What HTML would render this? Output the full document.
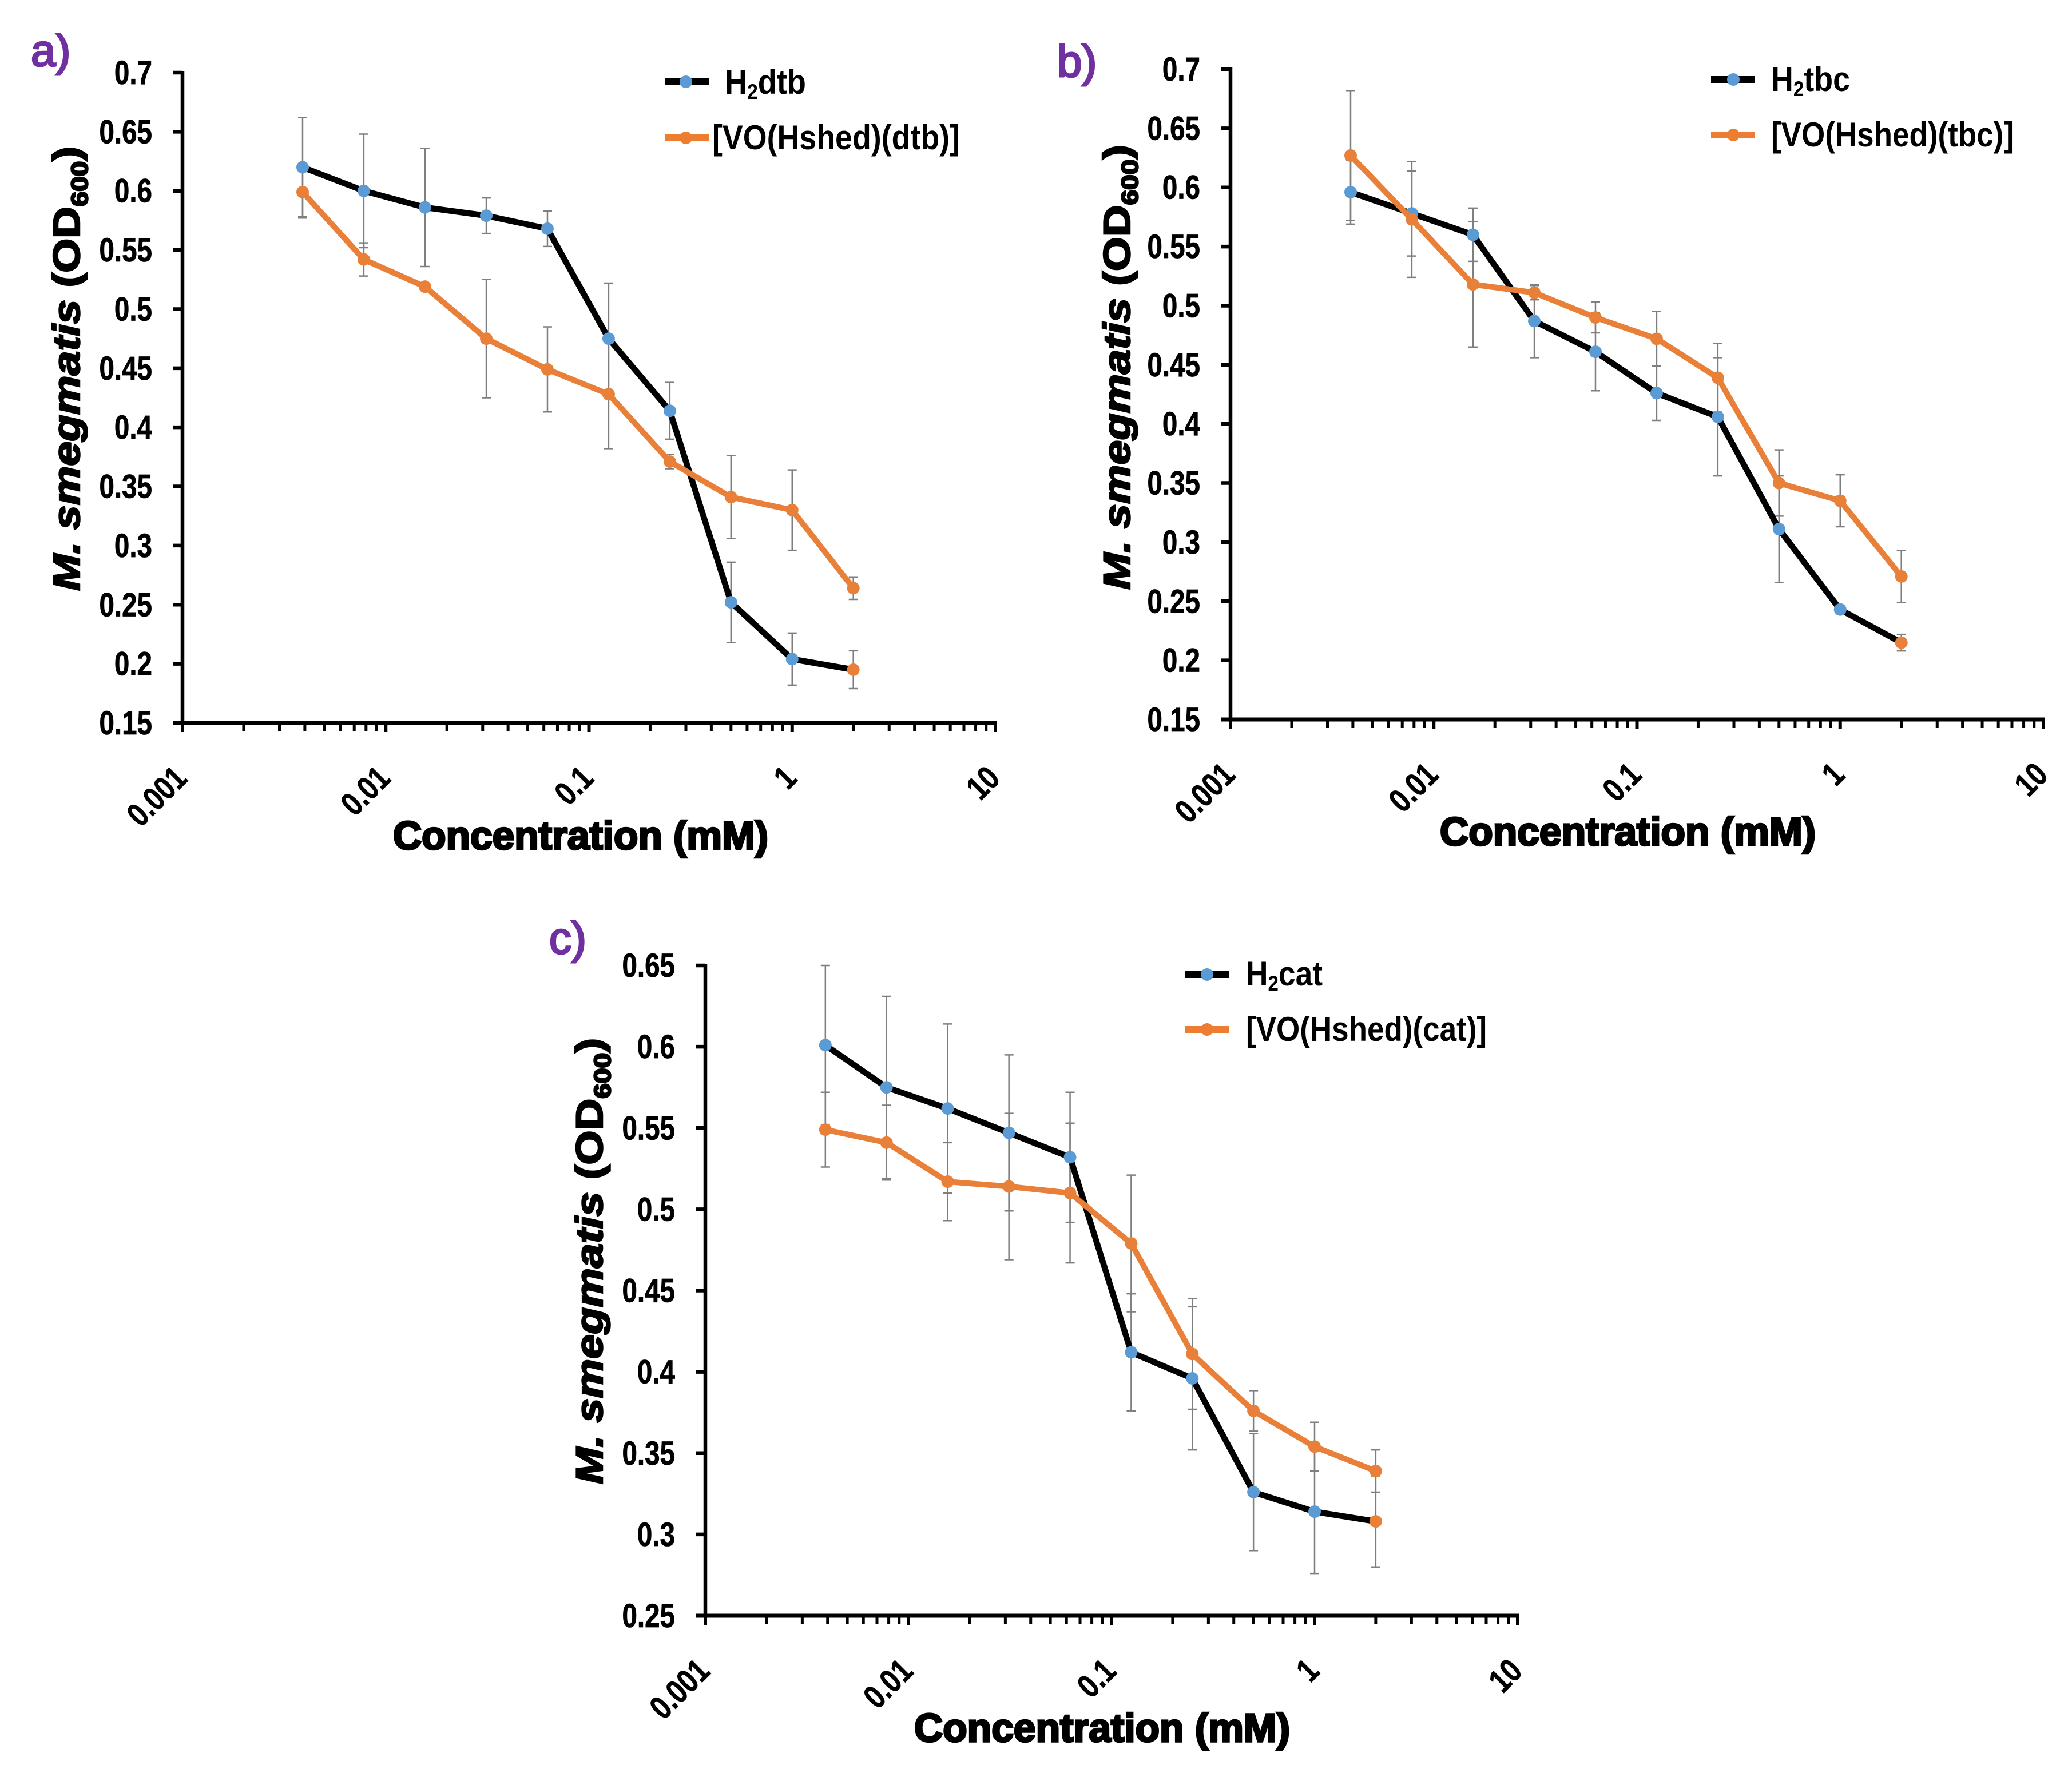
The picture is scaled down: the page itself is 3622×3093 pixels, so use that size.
<!DOCTYPE html>
<html lang="en">
<head>
<meta charset="utf-8">
<title>M. smegmatis growth charts</title>
<style>
html,body{margin:0;padding:0;background:#fff;width:3622px;height:3093px;overflow:hidden}
svg{display:block}
text{font-family:"Liberation Sans",sans-serif;font-weight:bold;fill:#000}
.sub{font-size:.62em}
.panel-label{font-size:78px;fill:#7030a0;font-weight:normal;stroke:#7030a0;stroke-width:3px}
.legend-text{font-size:60px}
.x-title{font-size:70px;stroke:#000;stroke-width:3.5px}
.y-title{font-size:66px;stroke:#000;stroke-width:2.5px}
</style>
</head>
<body>
<svg id="chart" xmlns="http://www.w3.org/2000/svg" width="3622" height="3093" viewBox="0 0 3622 3093">
  <rect width="3622" height="3093" fill="#fff"/>

  <g id="panel-a"></g>
  <g id="panel-b"></g>
  <g id="panel-c"></g>

  <text class="panel-label" x="54" y="115">a)</text>
  <text class="panel-label" x="1848" y="134">b)</text>
  <text class="panel-label" x="960" y="1667">c)</text>

  <text class="x-title" x="687" y="1485" textLength="656" lengthAdjust="spacingAndGlyphs">Concentration (mM)</text>
  <text class="x-title" x="2517" y="1478" textLength="657" lengthAdjust="spacingAndGlyphs">Concentration (mM)</text>
  <text class="x-title" x="1598" y="3045" textLength="657" lengthAdjust="spacingAndGlyphs">Concentration (mM)</text>

  <text class="y-title" transform="translate(139,1033) rotate(-90)" textLength="777" lengthAdjust="spacingAndGlyphs"><tspan font-style="italic">M. smegmatis</tspan> (OD<tspan class="sub" dy="14">600</tspan><tspan dy="-14">)</tspan></text>
  <text class="y-title" transform="translate(1975,1031) rotate(-90)" textLength="778" lengthAdjust="spacingAndGlyphs"><tspan font-style="italic">M. smegmatis</tspan> (OD<tspan class="sub" dy="14">600</tspan><tspan dy="-14">)</tspan></text>
  <text class="y-title" transform="translate(1053,2595) rotate(-90)" textLength="780" lengthAdjust="spacingAndGlyphs"><tspan font-style="italic">M. smegmatis</tspan> (OD<tspan class="sub" dy="14">600</tspan><tspan dy="-14">)</tspan></text>

  <g>
    <line x1="1162" y1="143" x2="1240" y2="143" stroke="#000" stroke-width="12"/>
    <circle cx="1199" cy="143" r="11" fill="#5b9bd5"/>
    <text class="legend-text" x="1267" y="164" textLength="142" lengthAdjust="spacingAndGlyphs">H<tspan class="sub" dy="9">2</tspan><tspan dy="-9">dtb</tspan></text>
    <line x1="1162" y1="241" x2="1240" y2="241" stroke="#ed7d31" stroke-width="12"/>
    <circle cx="1199" cy="241" r="11" fill="#ed7d31"/>
    <text class="legend-text" x="1245" y="261" textLength="433" lengthAdjust="spacingAndGlyphs">[VO(Hshed)(dtb)]</text>
  </g>
  <g>
    <line x1="2991" y1="139" x2="3067" y2="139" stroke="#000" stroke-width="12"/>
    <circle cx="3030" cy="139" r="11" fill="#5b9bd5"/>
    <text class="legend-text" x="3096" y="159" textLength="138" lengthAdjust="spacingAndGlyphs">H<tspan class="sub" dy="9">2</tspan><tspan dy="-9">tbc</tspan></text>
    <line x1="2991" y1="236" x2="3067" y2="236" stroke="#ed7d31" stroke-width="12"/>
    <circle cx="3030" cy="236" r="11" fill="#ed7d31"/>
    <text class="legend-text" x="3096" y="256" textLength="424" lengthAdjust="spacingAndGlyphs">[VO(Hshed)(tbc)]</text>
  </g>
  <g>
    <line x1="2071" y1="1704" x2="2149" y2="1704" stroke="#000" stroke-width="12"/>
    <circle cx="2110" cy="1704" r="11" fill="#5b9bd5"/>
    <text class="legend-text" x="2178" y="1723" textLength="134" lengthAdjust="spacingAndGlyphs">H<tspan class="sub" dy="9">2</tspan><tspan dy="-9">cat</tspan></text>
    <line x1="2071" y1="1800" x2="2149" y2="1800" stroke="#ed7d31" stroke-width="12"/>
    <circle cx="2110" cy="1800" r="11" fill="#ed7d31"/>
    <text class="legend-text" x="2178" y="1820" textLength="421" lengthAdjust="spacingAndGlyphs">[VO(Hshed)(cat)]</text>
  </g>
</svg>

<script>
// Shared x data
const concentrations = [0.0039, 0.0078, 0.0156, 0.03125, 0.0625, 0.125, 0.25, 0.5, 1, 2];
const xTickValues = [0.001, 0.01, 0.1, 1, 10];
const xTickLabels = ['0.001', '0.01', '0.1', '1', '10'];

// Panel a
const yTickLabelsA = ['0.15', '0.2', '0.25', '0.3', '0.35', '0.4', '0.45', '0.5', '0.55', '0.6', '0.65', '0.7'];
const h2dtbValues = [0.62, 0.6, 0.586, 0.579, 0.568, 0.475, 0.414, 0.252, 0.204, 0.195];
const h2dtbErrors = [0.042, 0.048, 0.05, 0.015, 0.015, 0.047, 0.024, 0.034, 0.022, 0.016];
const voDtbValues = [0.599, 0.542, 0.519, 0.475, 0.449, 0.428, 0.371, 0.341, 0.33, 0.264];
const voDtbErrors = [0.022, 0.014, 0.002, 0.05, 0.036, 0.046, 0.006, 0.035, 0.034, 0.0095];

// Panel b
const yTickLabelsB = ['0.15', '0.2', '0.25', '0.3', '0.35', '0.4', '0.45', '0.5', '0.55', '0.6', '0.65', '0.7'];
const h2tbcValues = [0.596, 0.578, 0.56, 0.487, 0.461, 0.426, 0.406, 0.311, 0.243, 0.215];
const h2tbcErrors = [0.027, 0.036, 0.0225, 0.031, 0.033, 0.023, 0.05, 0.045, 0.003, 0.007];
const voTbcValues = [0.627, 0.573, 0.518, 0.511, 0.49, 0.472, 0.439, 0.35, 0.335, 0.271];
const voTbcErrors = [0.055, 0.049, 0.053, 0.006, 0.013, 0.023, 0.029, 0.028, 0.022, 0.022];

// Panel c
const yTickLabelsC = ['0.25', '0.3', '0.35', '0.4', '0.45', '0.5', '0.55', '0.6', '0.65'];
const h2catValues = [0.601, 0.575, 0.562, 0.547, 0.532, 0.412, 0.396, 0.326, 0.314, 0.308];
const h2catErrors = [0.049, 0.056, 0.052, 0.048, 0.04, 0.036, 0.044, 0.036, 0.038, 0.028];
const voCatValues = [0.549, 0.541, 0.517, 0.514, 0.51, 0.479, 0.411, 0.376, 0.354, 0.339];
const voCatErrors = [0.023, 0.023, 0.024, 0.045, 0.043, 0.042, 0.034, 0.0125, 0.015, 0.013];

const NS = 'http://www.w3.org/2000/svg';
const BLUE = '#5b9bd5', ORANGE = '#e9803a', GREY = '#7f7f7f';

function el(parent, tag, attrs) {
  const node = document.createElementNS(NS, tag);
  for (const k in attrs) node.setAttribute(k, attrs[k]);
  parent.appendChild(node);
  return node;
}

function drawPanel(id, box, yLabels, black, blackErr, orange, orangeErr) {
  const g = document.getElementById(id);
  const yVals = yLabels.map(Number);
  const yMin = yVals[0], yMax = yVals[yVals.length - 1];
  const xScale = v => box.x0 + (Math.log10(v) + 3) / 4 * (box.x1 - box.x0);
  const yScale = v => box.yb - (v - yMin) / (yMax - yMin) * (box.yb - box.yt);

  // y axis + ticks
  const yAxis = el(g, 'line', {x1: box.x0, y1: box.yt - 3, x2: box.x0, y2: box.yb + 3, stroke: '#000', 'stroke-width': 6.5});
  
  
  yLabels.forEach((label, i) => {
    const y = yScale(yVals[i]);
    const tick = el(g, 'line', {x1: box.x0 - 17, y1: y, x2: box.x0, y2: y, stroke: '#000', 'stroke-width': 6.5});
    
    
    const t = el(g, 'text', {transform: 'translate(' + (box.x0 - 53) + ',' + (y + 20) + ') scale(.82,1)', 'text-anchor': 'end', 'font-size': 58, stroke: '#000', 'stroke-width': 0.8});
    t.textContent = label;
    
    
  });

  // x axis + ticks
  const xAxis = el(g, 'line', {x1: box.x0 - 17, y1: box.yb, x2: box.x1 + 3, y2: box.yb, stroke: '#000', 'stroke-width': 7});
  
  
  xTickValues.forEach((v, i) => {
    const x = xScale(v);
    const tick = el(g, 'line', {x1: x, y1: box.yb, x2: x, y2: box.yb + 16, stroke: '#000', 'stroke-width': 6});
    
    
    if (i < xTickValues.length - 1) {
      for (let m = 2; m < 10; m++) {
        const xm = xScale(v * m);
        const minor = el(g, 'line', {x1: xm, y1: box.yb, x2: xm, y2: box.yb + 14, stroke: '#000', 'stroke-width': 5});
        
        
      }
    }
    const t = el(g, 'text', {transform: 'translate(' + (x + 11) + ',' + (box.yb + 100) + ') rotate(-45) scale(.82,1)', 'text-anchor': 'end', 'font-size': 58, stroke: '#000', 'stroke-width': 0.8});
    t.textContent = xTickLabels[i];
    
    
  });

  // error bars
  const drawErr = (vals, errs, name) => vals.forEach((v, i) => {
    const x = xScale(concentrations[i]);
    const up = yScale(v + errs[i]), lo = yScale(v - errs[i]);
    const eb = el(g, 'path', {
      d: 'M' + x + ' ' + up + 'V' + lo + 'M' + (x - 8) + ' ' + up + 'H' + (x + 8) + 'M' + (x - 8) + ' ' + lo + 'H' + (x + 8),
      stroke: GREY, 'stroke-width': 2.5, fill: 'none'
    });
    
    
  });
  drawErr(black, blackErr, id + '-ligand');
  drawErr(orange, orangeErr, id + '-complex');

  // series
  const drawLine = (vals, color, width, name) => {
    const pts = vals.map((v, i) => xScale(concentrations[i]) + ',' + yScale(v)).join(' ');
    const line = el(g, 'polyline', {points: pts, fill: 'none', stroke: color, 'stroke-width': width, 'stroke-linejoin': 'round', 'stroke-linecap': 'round'});
    
    
  };
  const drawDots = (vals, color, name) => vals.forEach((v, i) => {
    const c = el(g, 'circle', {cx: xScale(concentrations[i]), cy: yScale(v), r: 11, fill: i === vals.length - 1 ? ORANGE : color});
    
    
  });
  drawLine(black, '#000', 10.5, id + '-ligand');
  drawDots(black, BLUE, id + '-ligand');
  drawLine(orange, ORANGE, 10, id + '-complex');
  drawDots(orange, ORANGE, id + '-complex');
}

drawPanel('panel-a', {x0: 319, x1: 1740, yt: 127, yb: 1264}, yTickLabelsA, h2dtbValues, h2dtbErrors, voDtbValues, voDtbErrors);
drawPanel('panel-b', {x0: 2151, x1: 3572, yt: 121, yb: 1258}, yTickLabelsB, h2tbcValues, h2tbcErrors, voTbcValues, voTbcErrors);
drawPanel('panel-c', {x0: 1233, x1: 2653, yt: 1688, yb: 2825}, yTickLabelsC, h2catValues, h2catErrors, voCatValues, voCatErrors);
</script>
</body>
</html>
